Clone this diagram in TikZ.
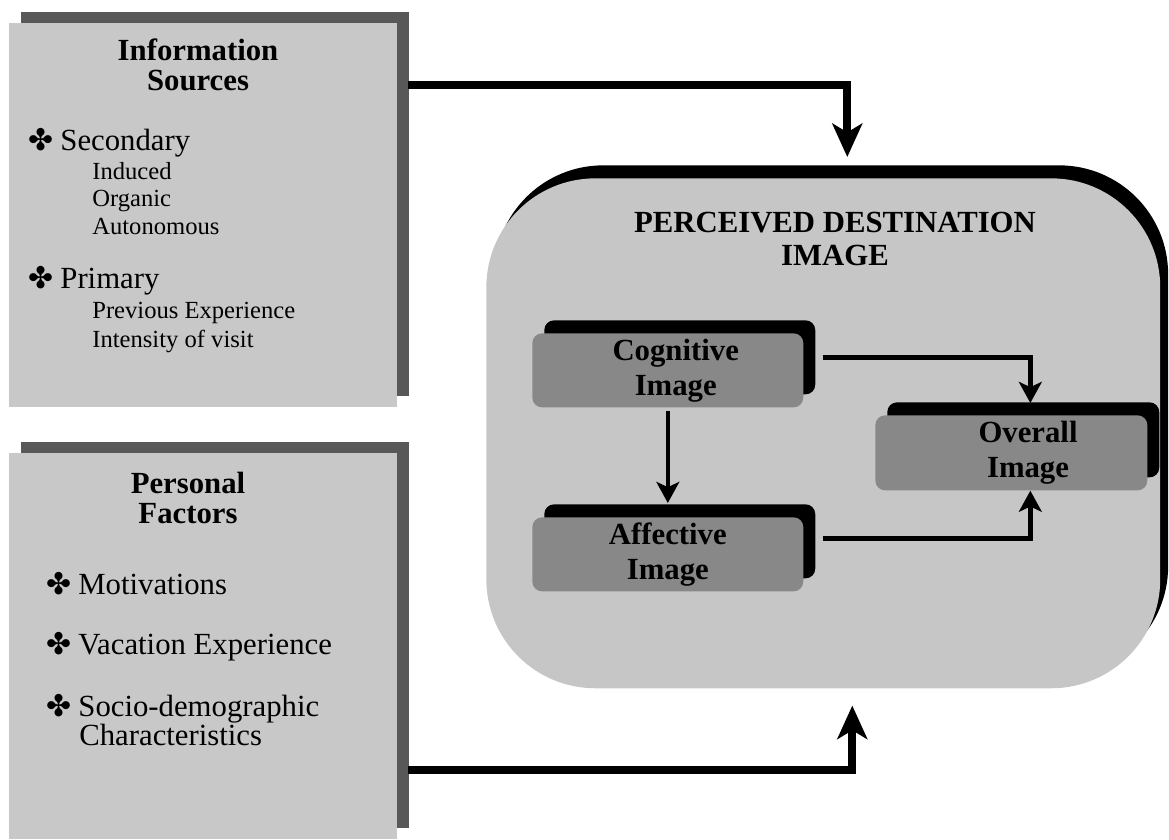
\documentclass[tikz,border=0pt]{standalone}
\usepackage{fontspec}
\setmainfont{Liberation Serif}
\newfontfamily\symfont{DejaVu Sans}
\usetikzlibrary{arrows.meta,calc,shadows}

\definecolor{boxgray}{RGB}{200,200,200}
\definecolor{edgegray}{RGB}{88,88,88}
\definecolor{imggray}{RGB}{198,198,198}
\definecolor{midgray}{RGB}{136,136,136}

\newcommand{\clover}{{\symfont\fontsize{17}{17}\selectfont ✤}\hspace{4pt}}

\begin{document}
\begin{tikzpicture}[
		x=0.02cm, y=-0.02cm,
		srcbox/.style={fill=boxgray, inner sep=0, anchor=north west, minimum width=7.76cm,
			general shadow={fill=edgegray, shadow xshift=6.8pt, shadow yshift=6.2pt}},
		imgbox/.style={fill=imggray, inner sep=0, anchor=north west, rounded corners=62pt,
			minimum width=13.48cm, minimum height=10.2cm,
			general shadow={fill=black, shadow xshift=4.5pt, shadow yshift=7.4pt}},
		partbox/.style={fill=midgray, inner sep=0, anchor=north west, rounded corners=5.5pt,
			minimum width=5.42cm, minimum height=1.48cm, align=center,
			font=\bfseries\fontsize{17.5}{19.8}\selectfont,
			general shadow={fill=black, shadow xshift=6.8pt, shadow yshift=7.4pt}},
		head/.style={align=center, inner sep=0, font=\bfseries\fontsize{17.5}{17}\selectfont},
		item/.style={anchor=base west, inner sep=0, font=\fontsize{17.5}{18}\selectfont},
		subitem/.style={anchor=base west, inner sep=0, font=\fontsize{14}{15}\selectfont},
		bigarrow/.style={line width=4.5pt, -{Stealth[length=19pt, width=17pt, inset=5pt]}},
		smallarrow/.style={line width=2.6pt, -{Stealth[length=12pt, width=13pt, inset=3pt]}}
		]
		\useasboundingbox (0,0) rectangle (1169,839);
		
		% Left boxes
		\node[srcbox, minimum height=7.68cm] (srcs) at (9,23) {};
		\node[srcbox, minimum height=7.72cm] (pers) at (9,453) {};
		
		% Information sources
		\node[head] (srcshead) at (198,65) {Information\\Sources};
		\foreach \n/\ypos/\txt in {sec/150/Secondary, pri/288/Primary}
		\node[item] (\n) at (28,\ypos) {\clover\txt};
		\foreach \n/\ypos/\txt in {ind/179/Induced, org/206/Organic, aut/234/Autonomous,
			prev/318/Previous Experience, inten/347/Intensity of visit}
		\node[subitem] (\n) at (92,\ypos) {\txt};
		
		% Personal factors
		\node[head] (pershead) at (188,498) {Personal\\Factors};
		\foreach \n/\ypos/\txt in {mot/594/Motivations, vac/654/Vacation Experience,
			soc/716/Socio-demographic}
		\node[item] (\n) at (46,\ypos) {\clover\txt};
		\node[item] (chr) at (79,745) {Characteristics};
		
		% Perceived destination image
		\node[imgbox] (pdi) at (486,178) {};
		\node[head, font=\bfseries\fontsize{17.5}{19.3}\selectfont] (pdihead) at (835,239)
		{PERCEIVED DESTINATION\\IMAGE};
		\node[partbox] (cog) at (532,333) {\hspace*{9pt}Cognitive\\\hspace*{9pt}Image};
		\node[partbox] (aff) at (532,517) {Affective\\Image};
		\node[partbox, minimum width=5.44cm, minimum height=1.5cm] (ovr) at (875,415)
		{\hspace*{19pt}Overall\\\hspace*{19pt}Image};
		
		% Arrows
		\draw[bigarrow] ($(srcs.north east)+(10,62)$) -| ($(pdi.north)+(24,-21)$);
		\draw[bigarrow] ($(pers.south east)+(10,-70)$) -| ($(pdi.south)+(29,17)$);
		\draw[smallarrow] ($(cog.east)+(19,-13)$) -| ($(ovr.north)+(19,-12)$);
		\draw[smallarrow] ($(aff.east)+(19,-16)$) -| ($(ovr.south)+(19,0)$);
		\draw[smallarrow] ($(cog.south)+(0,3)$) -- ($(aff.north)+(0,-14)$);
		
	\end{tikzpicture}
\end{document}
